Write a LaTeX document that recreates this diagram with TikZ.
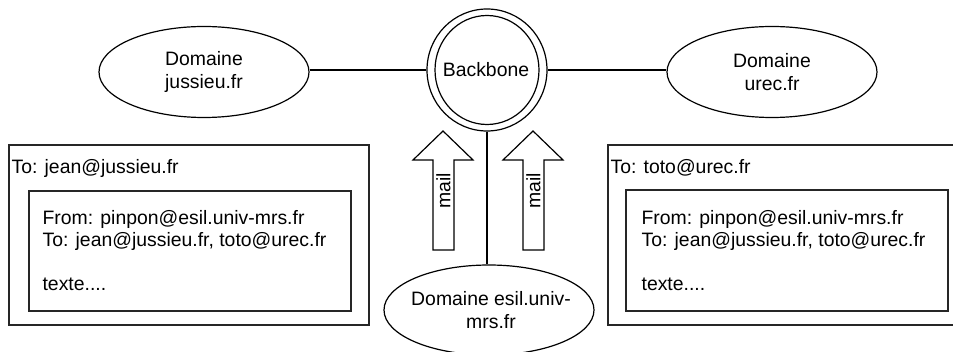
\documentclass[tikz,border=0pt]{standalone}
\usepackage{fontspec}
\setmainfont{Liberation Sans}
\usetikzlibrary{shapes.geometric}
\begin{document}
\begin{tikzpicture}[x=1pt,y=-1pt,
  line width=1.2pt,
  txt/.style={font=\fontsize{19.4}{23}\selectfont, inner sep=0pt},
  ring/.style={draw, ellipse, inner sep=0pt},
  boxline/.style={draw=black!85},
  mailarrow/.style={draw, fill=white},
  lbl/.style={txt, anchor=base west},
  ctr/.style={txt, align=center}
]
\useasboundingbox (0,0) rectangle (953,352);
\clip (0,0) rectangle (953,352);

% domain ellipses
\node[ring, minimum width=210pt, minimum height=91pt] (jus) at (204,72) {};
\node[ctr] (just) at (204,72) {Domaine\\jussieu.fr};
\node[ring, minimum width=210pt, minimum height=91pt] (urec) at (772,72) {};
\node[ctr] (urect) at (772,72) {Domaine\\urec.fr};
\node[ring, minimum width=210pt, minimum height=90pt] (esil) at (489,310) {};
\node[ctr] (esilt) at (491,310) {Domaine esil.univ-\\mrs.fr};

% backbone double ring
\node[ring, minimum width=120pt, minimum height=122pt] (bb) at (487,70) {};
\node[ring, minimum width=104pt, minimum height=109pt] (bbi) at (487,70) {};
\node[txt] (bbt) at (486,70) {Backbone};

% connectors
\draw (bb.west) -- (bb.west -| jus.east);
\draw (bb.east) -- (bb.east -| urec.west);
\draw (bb.south) -- (bb.south |- esil.north);

% mail arrows
\draw[mailarrow] (443,131) -- (473,160) -- (454,160) -- (454,250) -- (433,250) -- (433,160) -- (413,160) -- cycle;
\draw[mailarrow] (533,131) -- (563,160) -- (544,160) -- (544,250) -- (523,250) -- (523,160) -- (503,160) -- cycle;
\node[txt, rotate=90] (mailL) at (443.5,191) {mail};
\node[txt, rotate=90] (mailR) at (533.5,191) {mail};

% left message
\draw[boxline] (9,145) rectangle (369,325);
\draw[boxline] (29,191) rectangle (351,311);
\node[lbl] (lto) at (11,174) {To: jean@jussieu.fr};
\node[lbl] (lfrom) at (42,225) {From: pinpon@esil.univ-mrs.fr};
\node[lbl] (lto2) at (42,247) {To: jean@jussieu.fr, toto@urec.fr};
\node[lbl] (ltxt) at (42,291) {texte....};

% right message
\draw[boxline] (608,145) rectangle (962,325);
\draw[boxline] (626,190) rectangle (948,311);
\node[lbl] (rto) at (610,174) {To: toto@urec.fr};
\node[lbl] (rfrom) at (641,225) {From: pinpon@esil.univ-mrs.fr};
\node[lbl] (rto2) at (641,247) {To: jean@jussieu.fr, toto@urec.fr};
\node[lbl] (rtxt) at (641,291) {texte....};
\end{tikzpicture}
\end{document}
